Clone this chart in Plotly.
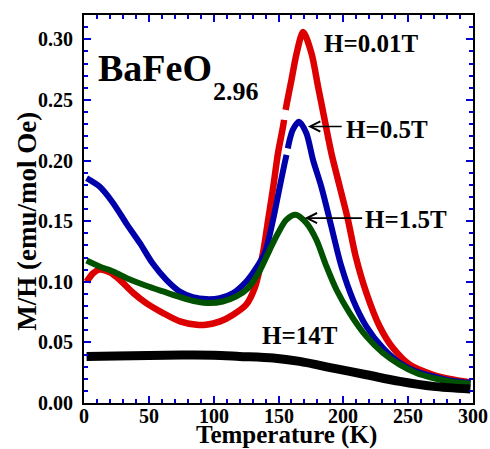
import plotly.graph_objects as go

# Magnetic susceptibility M/H of BaFeO2.96 vs temperature at four applied fields.
# None marks a break in the measured data.
t_001 = [2, 7, 12, 20, 27.5, 38, 48, 61, 74, 87, 94, 105, 115, 125, 132, 138, 142, 146,
         149.6, 153.5, 154.3, None, 155.5, 156.5, 160, 164, 169, 175.4, 180.5, 185.6, 190.8,
         197.2, 203.6, 209.5, 217.8, 228, 238.3, 251.2, 269.2, 282, 298]
mh_001 = [0.100, 0.107, 0.110, 0.1077, 0.1016, 0.0907, 0.0824, 0.0742, 0.0673, 0.0645,
          0.0645, 0.0673, 0.0728, 0.081, 0.096, 0.1236, 0.151, 0.1785, 0.206, 0.228, 0.2335,
          None, 0.2417, 0.2475, 0.2665, 0.2885, 0.306, 0.2885, 0.261, 0.2335, 0.206, 0.1785,
          0.151, 0.121, 0.0907, 0.0631, 0.0453, 0.0316, 0.0233, 0.0198, 0.017]

t_05 = [2, 12, 22.4, 32.7, 43, 53, 63.5, 73.8, 84, 94.4, 104.6, 115, 125, 132, 139.4, 145.8,
        151, 154.8, 156.2, None, 157.2, 158, 161, 165.8, 171.5, 176.6, 183, 189.5, 192, 198.5,
        207.5, 217.8, 230.6, 243.5, 256.3, 269.2, 282, 298]
mh_05 = [0.1855, 0.1785, 0.165, 0.148, 0.132, 0.115, 0.1016, 0.092, 0.0874, 0.0857, 0.0865,
         0.0907, 0.100, 0.110, 0.1236, 0.151, 0.1785, 0.198, 0.2047, None, 0.210, 0.2143,
         0.2253, 0.232, 0.2225, 0.2005, 0.1785, 0.151, 0.140, 0.1126, 0.0851, 0.0631, 0.0453,
         0.033, 0.026, 0.0219, 0.0186, 0.0165]

t_15 = [2, 12, 22.4, 35, 48, 61, 74, 86.7, 97, 107, 117.5, 126.5, 135, 143.2, 149.6, 156,
        163.3, 171.5, 179.2, 187, 194.7, 204.9, 217.8, 230.6, 243.5, 256.3, 269.2, 282, 298]
mh_15 = [0.1175, 0.1126, 0.1085, 0.102, 0.0967, 0.092, 0.0874, 0.0837, 0.0824, 0.0837, 0.0879,
         0.0948, 0.108, 0.1263, 0.140, 0.151, 0.1552, 0.1484, 0.1346, 0.1126, 0.0934, 0.0742,
         0.0549, 0.0412, 0.0316, 0.0247, 0.0206, 0.0178, 0.0159]

t_14 = [2, 25, 50, 75, 100, 120, 145.8, 166.3, 192, 217.8, 243.5, 269.2, 298]
mh_14 = [0.0384, 0.0388, 0.0392, 0.0395, 0.0394, 0.0384, 0.0371, 0.0343, 0.0288, 0.0233,
         0.0178, 0.0137, 0.0115]

x_ticks = [0, 50, 100, 150, 200, 250, 300]
y_ticks = [0.00, 0.05, 0.10, 0.15, 0.20, 0.25, 0.30]

SERIF = "Liberation Serif"
TICK_BLUE = "#0000dd"

series = [
    (t_001, mh_001, "#dd0000", 6.5, "H=0.01T"),
    (t_05, mh_05, "#0000aa", 6, "H=0.5T"),
    (t_15, mh_15, "#005200", 6, "H=1.5T"),
    (t_14, mh_14, "#000000", 9, "H=14T"),
]

fig = go.Figure()
for t, mh, color, width, name in series:
    fig.add_trace(go.Scatter(
        x=t, y=mh, mode="lines", name=name,
        line=dict(color=color, width=width, shape="spline", smoothing=0.8),
        connectgaps=False, showlegend=False,
    ))

tick_font = dict(family=SERIF, size=20, color="black", weight="bold")
axis_common = dict(
    showline=True, linecolor="black", linewidth=2, mirror="allticks",
    ticks="inside", tickcolor=TICK_BLUE, tickwidth=2, ticklen=7,
    showgrid=False, zeroline=False, automargin=False,
    tickfont=tick_font,
)

# Bottom tick labels are set as text just under the axis line
fig.update_xaxes(
    range=[0, 300], tickmode="array", tickvals=x_ticks, showticklabels=False,
    minor=dict(dtick=10, ticks="inside", ticklen=4, tickcolor=TICK_BLUE, tickwidth=2),
    **axis_common,
)
for v in x_ticks:
    fig.add_annotation(x=v, xref="x", y=-0.034, yref="paper", text=str(v),
                       showarrow=False, xanchor="center", yanchor="middle", font=tick_font)

fig.update_yaxes(
    range=[0, 0.32], tickmode="array", tickvals=y_ticks,
    ticktext=[f"{v:.2f}" for v in y_ticks],
    minor=dict(dtick=0.01, ticks="inside", ticklen=4, tickcolor=TICK_BLUE, tickwidth=2),
    ticklabelstandoff=5,
    **axis_common,
)

label_font = dict(family=SERIF, size=25, color="black", weight="bold")

annotations = [
    dict(x=54.5, y=0.2764, text="BaFeO", font=dict(family=SERIF, size=38, color="black", weight="bold")),
    dict(x=117.4, y=0.257, text="2.96", font=dict(family=SERIF, size=26, color="black", weight="bold")),
    dict(x=221.5, y=0.2961, text="H=0.01T", font=label_font),
    dict(x=233.4, y=0.2257, text="H=0.5T", font=label_font),
    dict(x=248.1, y=0.1511, text="H=1.5T", font=label_font),
    dict(x=166.3, y=0.0555, text="H=14T", font=label_font),
]
for a in annotations:
    fig.add_annotation(xref="x", yref="y", showarrow=False, xanchor="center",
                       yanchor="middle", **a)

# Pointer arrows from the field labels to the curve maxima
for tip_x, tip_y, tail_x in [(172.7, 0.2281, 199.9), (170.2, 0.1525, 215.7)]:
    fig.add_annotation(x=tip_x, y=tip_y, ax=tail_x, ay=tip_y, xref="x", yref="y",
                       axref="x", ayref="y", text="", showarrow=True,
                       arrowhead=5, arrowsize=1.25, arrowwidth=1.6, arrowcolor="black")

# Axis titles
fig.add_annotation(xref="paper", yref="paper", x=0.521, y=-0.0835, text="Temperature (K)",
                   showarrow=False, xanchor="center", yanchor="middle",
                   font=dict(family=SERIF, size=25, color="black", weight="bold"))
fig.add_annotation(xref="paper", yref="paper", x=-0.145, y=0.4686, text="M/H (emu/mol Oe)",
                   showarrow=False, xanchor="center", yanchor="middle", textangle=-90,
                   font=dict(family=SERIF, size=27, color="black", weight="bold"))

fig.update_layout(
    template="none",
    width=490, height=449,
    margin=dict(l=84, r=17, t=15, b=46),
    paper_bgcolor="white", plot_bgcolor="white",
)

fig.write_html("out.html")
